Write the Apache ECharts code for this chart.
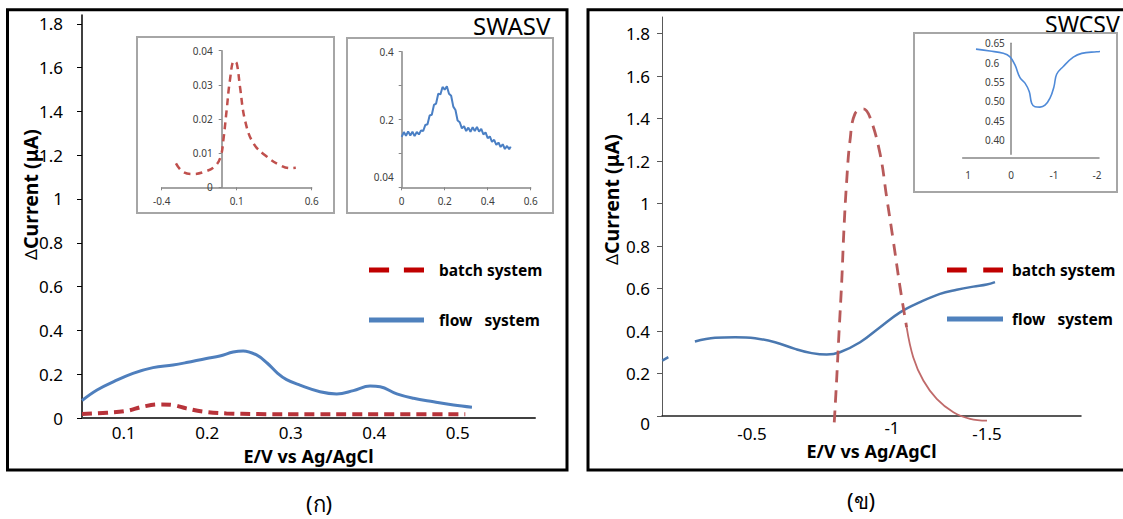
<!DOCTYPE html>
<html><head><meta charset="utf-8">
<script src="https://cdn.jsdelivr.net/npm/echarts@6/dist/echarts.min.js"></script>
<style>html,body{margin:0;padding:0;background:#fff}#c{width:1123px;height:519px}</style>
</head><body><div id="c"></div>
<script>
const FONT = '"Noto Sans", "DejaVu Sans", sans-serif';

// ---------- Panel (ก) SWASV : main ----------
const xTicksL = [0.1, 0.2, 0.3, 0.4, 0.5];
const yTicksMain = [0, 0.2, 0.4, 0.6, 0.8, 1, 1.2, 1.4, 1.6, 1.8];
const flowL_E = [0.05, 0.068, 0.088, 0.111, 0.135, 0.159, 0.175, 0.199, 0.215, 0.231, 0.243, 0.259, 0.272, 0.284, 0.295, 0.311, 0.335, 0.355, 0.375, 0.395, 0.407, 0.427, 0.447, 0.471, 0.495, 0.517];
const flowL_I = [0.08, 0.128, 0.166, 0.204, 0.23, 0.242, 0.253, 0.272, 0.283, 0.301, 0.306, 0.288, 0.25, 0.205, 0.175, 0.15, 0.12, 0.11, 0.125, 0.146, 0.143, 0.11, 0.09, 0.074, 0.059, 0.049];
const batchL_E = [0.05, 0.08, 0.104, 0.123, 0.143, 0.159, 0.175, 0.195, 0.223, 0.26, 0.3, 0.4, 0.509];
const batchL_I = [0.018, 0.024, 0.033, 0.052, 0.062, 0.059, 0.044, 0.029, 0.021, 0.018, 0.017, 0.017, 0.017];

// ---------- Panel (ก) inset 1 (batch) ----------
const in1_xTicks = [-0.4, 0.1, 0.6];
const in1_yTicks = [0, 0.01, 0.02, 0.03, 0.04];
const in1_E = [-0.305, -0.26, -0.19, -0.111, -0.044, -0.007, 0.011, 0.033, 0.055, 0.082, 0.1, 0.122, 0.155, 0.211, 0.3, 0.389, 0.455, 0.494];
const in1_I = [0.007, 0.0046, 0.0039, 0.0046, 0.0062, 0.009, 0.0138, 0.0226, 0.0314, 0.037, 0.0363, 0.0294, 0.0197, 0.0129, 0.009, 0.0065, 0.0056, 0.0057];

// ---------- Panel (ก) inset 2 (flow) ----------
const in2_xTicks = [0, 0.2, 0.4, 0.6];
const in2_yTicks = [0, 0.1, 0.2, 0.3, 0.4];
const in2_yLabels = ['0.04', '', '0.2', '', '0.4'];
const in2_E = [0, 0.01, 0.02, 0.03, 0.04, 0.05, 0.06, 0.07, 0.08, 0.09, 0.1, 0.11, 0.12, 0.13, 0.14, 0.15, 0.16, 0.17, 0.18, 0.19, 0.2, 0.21, 0.22, 0.23, 0.24, 0.25, 0.26, 0.27, 0.28, 0.29, 0.3, 0.31, 0.32, 0.33, 0.34, 0.35, 0.36, 0.37, 0.38, 0.39, 0.4, 0.41, 0.42, 0.43, 0.44, 0.45, 0.46, 0.47, 0.48, 0.49, 0.5, 0.507];
const in2_I = [0.149, 0.163, 0.152, 0.165, 0.153, 0.164, 0.151, 0.163, 0.156, 0.168, 0.166, 0.184, 0.186, 0.212, 0.214, 0.243, 0.247, 0.276, 0.274, 0.296, 0.288, 0.298, 0.276, 0.27, 0.238, 0.228, 0.197, 0.192, 0.174, 0.18, 0.166, 0.176, 0.164, 0.177, 0.166, 0.178, 0.164, 0.172, 0.156, 0.162, 0.145, 0.15, 0.134, 0.14, 0.125, 0.132, 0.119, 0.127, 0.113, 0.122, 0.112, 0.12];

// ---------- Panel (ข) SWCSV : main ----------
const xTicksR = [-0.5, -1, -1.5];
const flowR_E = [-0.118, -0.144, null, -0.257, -0.343, -0.428, -0.513, -0.598, -0.683, -0.754, -0.818, -0.874, -0.96, -1.045, -1.13, -1.215, -1.3, -1.371, -1.442, -1.499, -1.534];
const flowR_I = [0.261, 0.277, null, 0.351, 0.368, 0.371, 0.366, 0.347, 0.316, 0.296, 0.289, 0.3, 0.347, 0.418, 0.488, 0.536, 0.575, 0.594, 0.609, 0.619, 0.63];
const batchR_E = [-0.85, -0.86, -0.87, -0.882, -0.891, -0.903, -0.917, -0.938, -0.974, -1.002, -1.045, -1.073, -1.101, -1.13, -1.158];
const batchR_I = [-0.03, 0.167, 0.387, 0.638, 0.873, 1.108, 1.296, 1.422, 1.446, 1.406, 1.234, 1.03, 0.826, 0.606, 0.418];
const batchTail_E = [-1.158, -1.186, -1.229, -1.286, -1.357, -1.428, -1.5];
const batchTail_I = [0.418, 0.277, 0.167, 0.081, 0.018, -0.013, -0.022];

// ---------- Panel (ข) inset ----------
const inR_xTicks = [1, 0, -1, -2];
const inR_yTicks = [0.40, 0.45, 0.50, 0.55, 0.6, 0.65];
const inR_yLabels = ['0.40', '0.45', '0.50', '0.55', '0.6', '0.65'];
const inR_E = [0.814, 0.488, 0.179, 0.023, -0.093, -0.209, -0.326, -0.426, -0.481, -0.558, -0.674, -0.791, -0.907, -1.0, -1.062, -1.216, -1.449, -1.644, -1.993, -2.302];
const inR_I = [0.635, 0.63, 0.624, 0.615, 0.594, 0.561, 0.547, 0.525, 0.495, 0.486, 0.485, 0.49, 0.508, 0.538, 0.57, 0.59, 0.614, 0.624, 0.628, 0.631];

function pairs(xs, ys) { return xs.map((x, i) => x === null ? ['-', '-'] : [x, ys[i]]); }

const chart = echarts.init(document.getElementById('c'), null, { renderer: 'svg' });

const baseGrid = { containLabel: false, outerBoundsMode: 'none' };
const noSplit = { show: false };
const lbl = (size, color, margin) => ({ fontSize: size, color: color, margin: margin, fontFamily: FONT });

const option = {
  animation: false,
  backgroundColor: '#fff',
  textStyle: { fontFamily: FONT },
  title: [
    { text: 'SWASV', left: 473, top: 13, padding: 0, textStyle: { fontSize: 24, fontWeight: 'normal', color: '#000', fontFamily: FONT } },
    { text: 'SWCSV', left: 1045, top: 12, padding: 0, textStyle: { fontSize: 23, fontWeight: 'normal', color: '#000', fontFamily: FONT } },
    { text: '(ก)', left: 306, top: 492, padding: 0, textStyle: { fontSize: 22, fontWeight: 'normal', color: '#000', fontFamily: FONT } },
    { text: '(ข)', left: 847, top: 489, padding: 0, textStyle: { fontSize: 22, fontWeight: 'normal', color: '#000', fontFamily: FONT } }
  ],
  legend: [
    { left: 369, top: 262, orient: 'vertical', itemWidth: 55, itemHeight: 5, itemGap: 34, padding: 0,
      symbolKeepAspect: false, selectedMode: false,
      textStyle: { fontSize: 15.5, fontWeight: 'bold', color: '#000', fontFamily: FONT, padding: [0, 0, 0, 10] },
      data: [
        { name: 'batch system', icon: 'path://M0,0h19v5h-19z M33,0h19v5h-19z', itemStyle: { color: '#c00000', borderWidth: 0 } },
        { name: 'flow   system', icon: 'rect', itemStyle: { color: '#4f81bd', borderWidth: 0 } }
      ] },
    { left: 947, top: 262, orient: 'vertical', itemWidth: 56, itemHeight: 5, itemGap: 33, padding: 0,
      symbolKeepAspect: false, selectedMode: false,
      textStyle: { fontSize: 15.5, fontWeight: 'bold', color: '#000', fontFamily: FONT, padding: [0, 0, 0, 4] },
      data: [
        { name: 'batch system', icon: 'path://M0,0h18v5h-18z M33,0h18v5h-18z', itemStyle: { color: '#c00000', borderWidth: 0 } },
        { name: 'flow   system', icon: 'rect', itemStyle: { color: '#4f81bd', borderWidth: 0 } }
      ] }
  ],
  grid: [
    Object.assign({ left: 82, top: 15, width: 453, height: 403 }, baseGrid),
    Object.assign({ left: 161.7, top: 50.7, width: 150, height: 136.6 }, baseGrid),
    Object.assign({ left: 401.7, top: 51.7, width: 129, height: 135.6 }, baseGrid),
    Object.assign({ left: 662, top: 17, width: 419, height: 399 }, baseGrid),
    Object.assign({ left: 962.7, top: 43.3, width: 136.3, height: 111 }, baseGrid)
  ],
  xAxis: [
    { gridIndex: 0, type: 'value', min: 0.05, max: 0.5925, splitLine: noSplit,
      axisLine: { onZero: false, lineStyle: { color: '#404040', width: 2 } }, axisTick: { show: false },
      axisLabel: Object.assign({ customValues: xTicksL }, lbl(17, '#000', 6)),
      name: 'E/V vs Ag/AgCl', nameLocation: 'middle', nameGap: 29, nameMoveOverlap: false,
      nameTextStyle: { fontSize: 18, fontWeight: 'bold', color: '#000', fontFamily: FONT } },
    { gridIndex: 1, type: 'value', min: -0.4, max: 0.6, splitLine: noSplit,
      axisLine: { onZero: false, lineStyle: { color: '#868686', width: 1.5 } },
      axisTick: { show: true, customValues: in1_xTicks, length: 3, lineStyle: { color: '#868686' } },
      axisLabel: Object.assign({ customValues: in1_xTicks }, lbl(10, '#404040', 9)) },
    { gridIndex: 2, type: 'value', min: 0, max: 0.6, splitLine: noSplit,
      axisLine: { onZero: false, lineStyle: { color: '#868686', width: 1.5 } },
      axisTick: { show: true, customValues: in2_xTicks, length: 3, lineStyle: { color: '#868686' } },
      axisLabel: Object.assign({ customValues: in2_xTicks }, lbl(10, '#404040', 9)) },
    { gridIndex: 3, type: 'value', inverse: true, min: -1.9, max: -0.117, splitLine: noSplit,
      axisLine: { onZero: false, lineStyle: { color: '#222', width: 1.5 } }, axisTick: { show: false },
      axisLabel: Object.assign({ customValues: xTicksR, verticalAlign: 'bottom',
        formatter: v => v === -1 ? '{m|-1}' : String(v),
        rich: { m: { fontSize: 17, color: '#000', fontFamily: FONT, padding: [0, 0, 6, 45] } } }, lbl(17, '#000', 26)),
      name: 'E/V vs Ag/AgCl', nameLocation: 'middle', nameGap: 26, nameMoveOverlap: false,
      nameTextStyle: { fontSize: 18, fontWeight: 'bold', color: '#000', fontFamily: FONT } },
    { gridIndex: 4, type: 'value', inverse: true, min: -2.047, max: 1.123, splitLine: noSplit, offset: 3.4,
      axisLine: { onZero: false, lineStyle: { color: '#868686', width: 1.5 } }, axisTick: { show: false },
      axisLabel: Object.assign({ customValues: inR_xTicks }, lbl(10, '#404040', 12)) }
  ],
  yAxis: [
    { gridIndex: 0, type: 'value', min: 0, max: 1.84, splitLine: noSplit,
      axisLine: { show: true, onZero: false, lineStyle: { color: '#000', width: 1.5 } },
      axisTick: { show: true, customValues: yTicksMain, length: 5, lineStyle: { color: '#000' } },
      axisLabel: Object.assign({ customValues: yTicksMain }, lbl(17, '#000', 19)),
      name: '{d|Δ}Current (μA)', nameLocation: 'middle', nameGap: 42, nameRotate: 90, nameMoveOverlap: false,
      nameTextStyle: { fontSize: 19.5, fontWeight: 'bold', color: '#000', fontFamily: FONT, padding: [0, 0, 0, 44],
        rich: { d: { fontSize: 17, fontWeight: 'normal', color: '#000', fontFamily: FONT } } } },
    { gridIndex: 1, type: 'value', min: 0, max: 0.04, splitLine: noSplit, offset: -60,
      axisLine: { show: true, onZero: false, lineStyle: { color: '#868686', width: 1.5 } },
      axisTick: { show: true, customValues: in1_yTicks, length: 3, lineStyle: { color: '#868686' } },
      axisLabel: Object.assign({ customValues: in1_yTicks }, lbl(10, '#404040', 9)) },
    { gridIndex: 2, type: 'value', min: 0, max: 0.4, splitLine: noSplit,
      axisLine: { show: true, onZero: false, lineStyle: { color: '#868686', width: 1.5 } },
      axisTick: { show: true, customValues: in2_yTicks, length: 3, lineStyle: { color: '#868686' } },
      axisLabel: Object.assign({ customValues: in2_yTicks,
        formatter: (v) => { const i = in2_yTicks.indexOf(v); const t = in2_yLabels[i]; return i === 0 ? '{lo|' + t + '}' : t; },
        rich: { lo: { fontSize: 10, color: '#404040', fontFamily: FONT, padding: [0, 0, 20, 0] } } }, lbl(10, '#404040', 8)) },
    { gridIndex: 3, type: 'value', min: 0, max: 1.878, splitLine: noSplit,
      axisLine: { show: true, onZero: false, lineStyle: { color: '#595959', width: 1 } },
      axisTick: { show: true, customValues: yTicksMain, length: 5, lineStyle: { color: '#595959' } },
      axisLabel: Object.assign({ customValues: yTicksMain,
        formatter: v => v === 0 ? '{z|0}' : String(v),
        rich: { z: { fontSize: 17, color: '#000', fontFamily: FONT, padding: [14, 0, 0, 0] } } }, lbl(17, '#000', 12)),
      name: '{d|Δ}Current (μA)', nameLocation: 'middle', nameGap: 41, nameRotate: 90, nameMoveOverlap: false,
      nameTextStyle: { fontSize: 19.5, fontWeight: 'bold', color: '#000', fontFamily: FONT, padding: [0, 0, 0, 34],
        rich: { d: { fontSize: 17, fontWeight: 'normal', color: '#000', fontFamily: FONT } } } },
    { gridIndex: 4, type: 'value', min: 0.363, max: 0.65, splitLine: noSplit, offset: -48.3,
      axisLine: { show: true, onZero: false, lineStyle: { color: '#868686', width: 1.5 } },
      axisTick: { show: false },
      axisLabel: Object.assign({ customValues: inR_yTicks, align: 'left',
        formatter: (v) => inR_yLabels[inR_yTicks.indexOf(v)] }, lbl(10, '#404040', 26)) }
  ],
  series: [
    { type: 'line', name: 'flow   system', xAxisIndex: 0, yAxisIndex: 0, data: pairs(flowL_E, flowL_I),
      smooth: 0.4, symbol: 'none', lineStyle: { color: '#4f7fbd', width: 3 }, itemStyle: { color: '#4f81bd' } },
    { type: 'line', name: 'batch system', xAxisIndex: 0, yAxisIndex: 0, data: pairs(batchL_E, batchL_I),
      smooth: 0.4, symbol: 'none', lineStyle: { color: '#b8333a', width: 4, type: [10, 6] }, itemStyle: { color: '#c00000' } },
    { type: 'line', name: 'inset batch', xAxisIndex: 1, yAxisIndex: 1, data: pairs(in1_E, in1_I),
      smooth: 0.4, symbol: 'none', lineStyle: { color: '#c0504d', width: 2.5, type: [7, 5] } },
    { type: 'line', name: 'inset flow', xAxisIndex: 2, yAxisIndex: 2, data: pairs(in2_E, in2_I),
      symbol: 'none', lineStyle: { color: '#4a7fc4', width: 2 } },
    { type: 'line', name: 'flow   system', xAxisIndex: 3, yAxisIndex: 3, data: pairs(flowR_E, flowR_I),
      smooth: 0.4, symbol: 'none', connectNulls: false, lineStyle: { color: '#4a78b0', width: 2.5 }, itemStyle: { color: '#4f81bd' } },
    { type: 'line', name: 'batch system', xAxisIndex: 3, yAxisIndex: 3, data: pairs(batchR_E, batchR_I), clip: false,
      smooth: 0.4, symbol: 'none', lineStyle: { color: '#b85a5a', width: 2.8, type: [12, 8] }, itemStyle: { color: '#c00000' } },
    { type: 'line', name: 'batch tail', xAxisIndex: 3, yAxisIndex: 3, data: pairs(batchTail_E, batchTail_I), clip: false,
      smooth: 0.4, symbol: 'none', lineStyle: { color: '#c06a6a', width: 1.8 } },
    { type: 'line', name: 'inset flow R', xAxisIndex: 4, yAxisIndex: 4, data: pairs(inR_E, inR_I), clip: false,
      smooth: 0.4, symbol: 'none', lineStyle: { color: '#4f8ad8', width: 1.6 } }
  ],
  graphic: [
    { type: 'rect', z: 100, silent: true, shape: { x: 7.5, y: 9.7, width: 559.5, height: 460.3 }, style: { fill: 'none', stroke: '#000', lineWidth: 3 } },
    { type: 'rect', z: 100, silent: true, shape: { x: 588, y: 9.7, width: 545, height: 460.3 }, style: { fill: 'none', stroke: '#000', lineWidth: 3 } },
    { type: 'rect', z: 100, silent: true, shape: { x: 137, y: 37, width: 197, height: 176 }, style: { fill: 'none', stroke: '#a6a6a6', lineWidth: 2 } },
    { type: 'rect', z: 100, silent: true, shape: { x: 347, y: 38, width: 206, height: 175 }, style: { fill: 'none', stroke: '#a6a6a6', lineWidth: 2 } },
    { type: 'rect', z: 100, silent: true, shape: { x: 914, y: 33, width: 203, height: 159 }, style: { fill: 'none', stroke: '#a6a6a6', lineWidth: 2 } }
  ]
};
chart.setOption(option);
</script></body></html>
